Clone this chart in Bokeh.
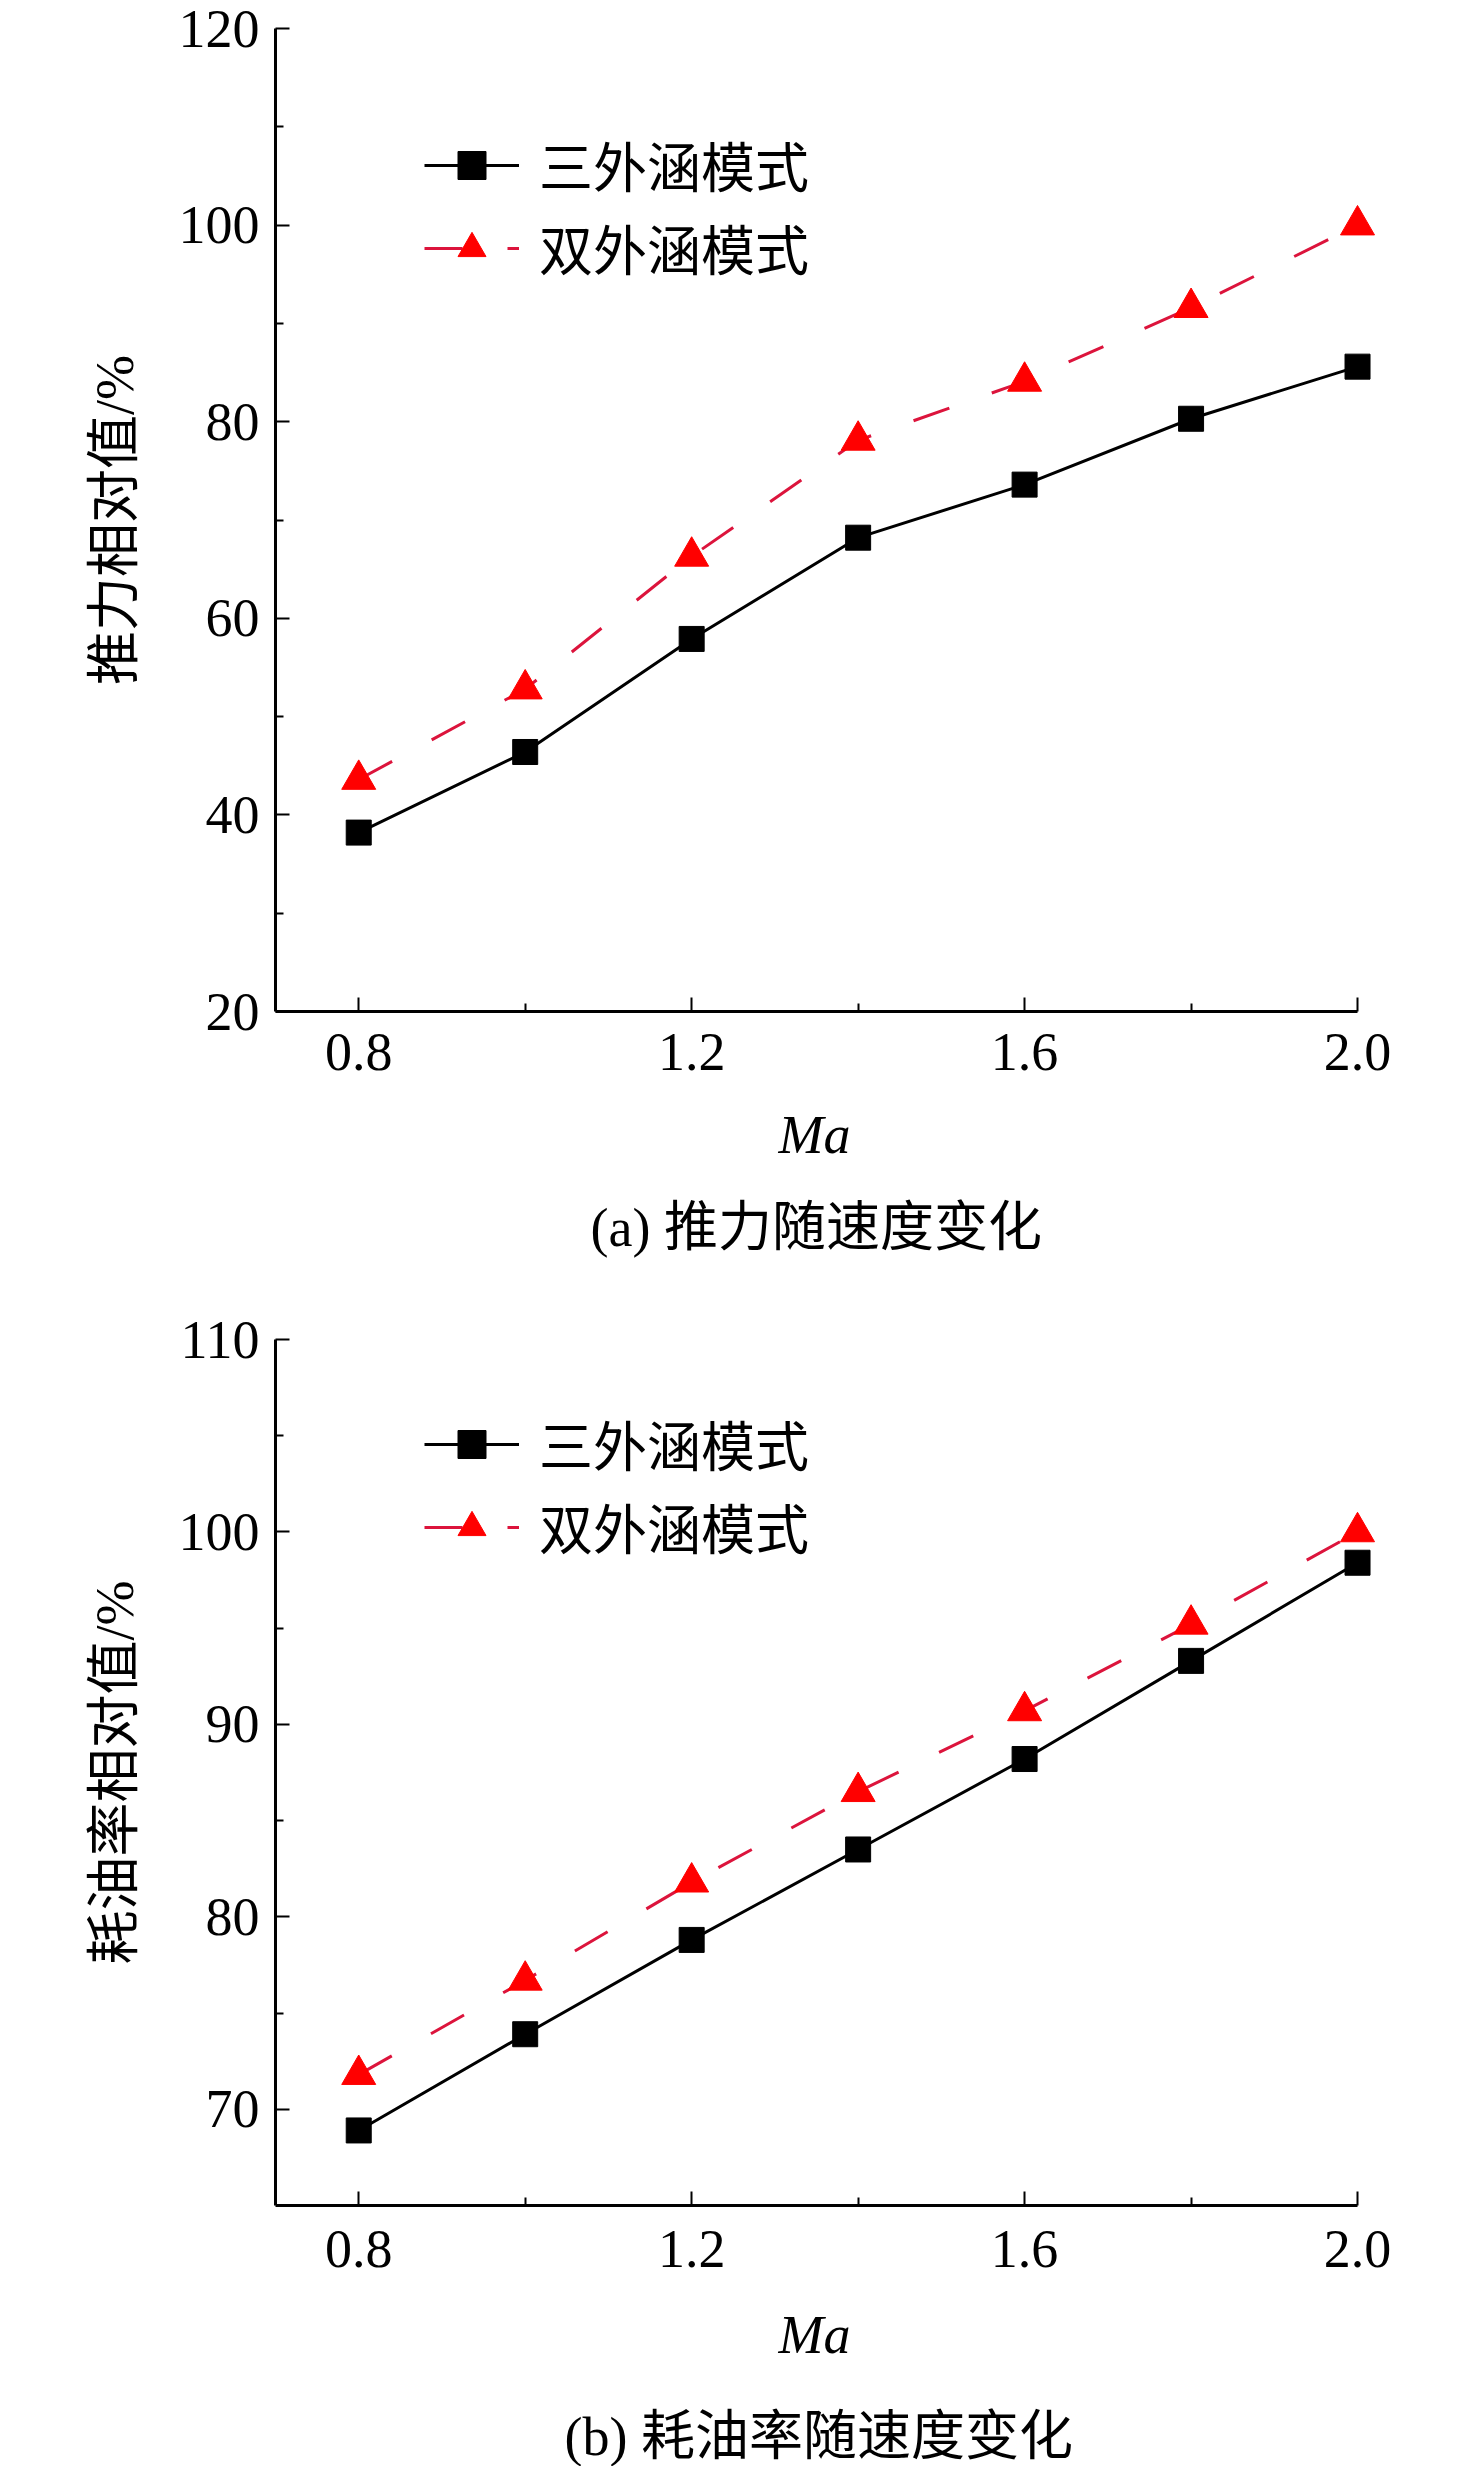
from bokeh.plotting import figure
from bokeh.models import FixedTicker, PrintfTickFormatter, Legend, LegendItem, Range1d, Title
from bokeh.layouts import column
from bokeh.embed import file_html
from bokeh.resources import INLINE

mach = [0.8, 1.0, 1.2, 1.4, 1.6, 1.8, 2.0]
thrust_three = [38.2, 46.4, 57.9, 68.2, 73.6, 80.3, 85.6]
thrust_double = [43.6, 52.8, 66.3, 78.1, 84.1, 91.6, 100.0]
sfc_three = [68.9, 73.9, 78.8, 83.5, 88.2, 93.3, 98.4]
sfc_double = [71.8, 76.7, 81.8, 86.5, 90.7, 95.2, 100.0]

x_major = [0.8, 1.2, 1.6, 2.0]
x_minor = [1.0, 1.4, 1.8]
name_three = "三外涵模式"
name_double = "双外涵模式"
xlabel = "Ma"
ylabel_a = "推力相对值/%"
ylabel_b = "耗油率相对值/%"
caption_a = "(a) 推力随速度变化"
caption_b = "(b) 耗油率随速度变化"

SERIF = "Liberation Serif"
MIX = "Liberation Serif, Noto Sans CJK SC"
FS = "54px"


def make(ys3, ys2, yr, ymaj, ymin, ylabel, caption, top, bottom, fh,
         legend_loc, tick_so, lab_so, title_so, cap_off):
    p = figure(frame_width=1107, frame_height=fh, output_backend="svg",
               toolbar_location=None, x_range=Range1d(0.7, 2.03),
               y_range=Range1d(*yr), title=None,
               min_border_left=275, min_border_right=80,
               min_border_top=top, min_border_bottom=bottom)
    p.outline_line_color = None
    p.grid.visible = False
    p.background_fill_color = "white"
    p.border_fill_color = "white"
    for ax in (p.xaxis[0], p.yaxis[0]):
        ax.axis_line_width = 3
        ax.axis_line_color = "black"
        ax.major_tick_in = 14
        ax.major_tick_out = 0
        ax.minor_tick_in = 8
        ax.minor_tick_out = 0
        ax.major_tick_line_width = 2
        ax.minor_tick_line_width = 2
        ax.major_label_text_font = SERIF
        ax.major_label_text_font_size = FS
        ax.major_label_text_color = "black"
        ax.axis_label_text_font_size = FS
        ax.axis_label_text_color = "black"
    p.xaxis.bounds = (0.7, 2.0)
    p.xaxis.ticker = FixedTicker(ticks=x_major, minor_ticks=x_minor)
    p.xaxis.formatter = PrintfTickFormatter(format="%.1f")
    p.yaxis.ticker = FixedTicker(ticks=ymaj, minor_ticks=ymin)
    p.xaxis.major_label_standoff = tick_so
    p.yaxis.axis_label = ylabel
    p.yaxis.axis_label_text_font = MIX
    p.yaxis.axis_label_text_font_style = "normal"
    p.yaxis.major_label_standoff = 16
    p.yaxis.axis_label_standoff = 31

    t_ma = Title(text=xlabel, align="left", offset=503, standoff=lab_so,
                 text_font=SERIF, text_font_style="italic",
                 text_font_size=FS, text_color="black")
    t_cap = Title(text=caption, align="left", offset=cap_off,
                  standoff=title_so, text_font=MIX, text_font_style="normal",
                  text_font_size=FS, text_color="black")
    p.add_layout(t_ma, "below")
    p.add_layout(t_cap, "below")

    l3 = p.line(mach, ys3, line_color="black", line_width=3)
    s3 = p.scatter(mach, ys3, marker="square", size=25, fill_color="black",
                   line_color="black")
    l2 = p.line(mach, ys2, line_color="#dc143c", line_width=3,
                line_dash="38 45")
    s2 = p.scatter(mach, ys2, marker="triangle", size=34, fill_color="#ff0000",
                   line_color="#ff0000")
    leg = Legend(items=[LegendItem(label=name_three, renderers=[l3, s3]),
                        LegendItem(label=name_double, renderers=[l2, s2])],
                 location=legend_loc, border_line_color=None,
                 background_fill_alpha=0, padding=0, margin=0,
                 spacing=4, label_height=70, glyph_height=70,
                 glyph_width=95, label_standoff=20,
                 label_text_font=MIX, label_text_font_size=FS,
                 label_text_color="black")
    p.add_layout(leg)
    return p


p1 = make(thrust_three, thrust_double, (20, 120), [20, 40, 60, 80, 100, 120],
          [30, 50, 70, 90, 110], ylabel_a, caption_a, 28, 269, 983,
          (149, 724), 22, 61, 0, 315)
p2 = make(sfc_three, sfc_double, (65, 110), [70, 80, 90, 100, 110],
          [75, 85, 95, 105], ylabel_b, caption_b, 59, 255, 866,
          (149, 639), 25, 67, 12, 289)

layout = column(p1, p2, spacing=0)
open("out.html", "w").write(file_html(layout, INLINE))
